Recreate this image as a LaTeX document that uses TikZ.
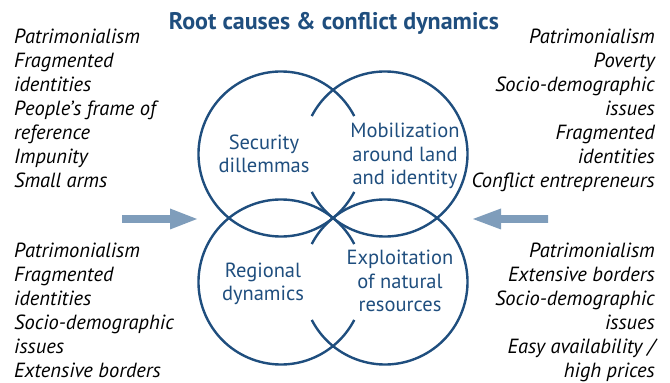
\documentclass[tikz,border=0pt]{standalone}
\usepackage{fontspec}
\setmainfont{PT Sans}
\definecolor{ringblue}{HTML}{1F4E7E}
\definecolor{arrowblue}{HTML}{7F9DBB}
\begin{document}
\begin{tikzpicture}[x=1pt,y=1pt,
  ring/.style={draw=ringblue,line width=2.4pt},
  side/.style={inner sep=0pt,font=\fontsize{20.5}{24}\selectfont\itshape,text=black},
  ctext/.style={inner sep=0pt,font=\fontsize{20.5}{23.5}\selectfont,text=ringblue,align=center},
  fatarrow/.style={draw=none,fill=arrowblue}]
\useasboundingbox (0,0) rectangle (670,383);
% ring centres (y up: 383 - image y)
\coordinate (TL) at (281,229);
\coordinate (TR) at (385,229);
\coordinate (BL) at (281,101);
\coordinate (BR) at (385,101);
\def\rr{82.5pt}
\draw[ring] ([shift={(27.4:\rr)}]TL) arc[start angle=27.4,end angle=332.6,radius=\rr];
\draw[ring] ([shift={(207.4:\rr)}]TR) arc[start angle=207.4,end angle=512.6,radius=\rr];
\draw[ring] ([shift={(27.4:\rr)}]BL) arc[start angle=27.4,end angle=332.6,radius=\rr];
\draw[ring] ([shift={(207.4:\rr)}]BR) arc[start angle=207.4,end angle=512.6,radius=\rr];
% title
\node[inner sep=0pt,anchor=base,font=\fontsize{24}{28}\selectfont\bfseries,text=ringblue] (title) at (334,353) {Root causes \& conflict dynamics};
% circle texts (base = last line)
\node[ctext,anchor=base] (sec) at (264,210) {Security\\dillemmas};
\node[ctext,anchor=base] (mob) at (405,198) {Mobilization\\around land\\and identity};
\node[ctext,anchor=base] (reg) at (263,82) {Regional\\dynamics};
\node[ctext,anchor=base] (exp) at (400,71) {Exploitation\\of natural\\resources};
% side texts (base = last line)
\node[side,align=left,anchor=base west] (tlx) at (14,195) {Patrimonialism\\Fragmented\\identities\\People’s frame of\\reference\\Impunity\\Small arms};
\node[side,align=right,anchor=base east] (trx) at (655,195) {Patrimonialism\\Poverty\\Socio-demographic\\issues\\Fragmented\\identities\\Conflict entrepreneurs};
\node[side,align=left,anchor=base west] (blx) at (14,5.5) {Patrimonialism\\Fragmented\\identities\\Socio-demographic\\issues\\Extensive borders};
\node[side,align=right,anchor=base east] (brx) at (655,5.5) {Patrimonialism\\Extensive borders\\Socio-demographic\\issues\\Easy availability /\\high prices};
% arrows
\coordinate (la) at (122,164);
\coordinate (lt) at (197,164);
\coordinate (ra) at (548,164);
\coordinate (rt) at (473,164);
\fill[fatarrow] ([yshift=3.8pt]la) -- ([xshift=-27pt,yshift=3.8pt]lt) -- ([xshift=-27pt,yshift=10.5pt]lt) -- (lt) -- ([xshift=-27pt,yshift=-10.5pt]lt) -- ([xshift=-27pt,yshift=-3.8pt]lt) -- ([yshift=-3.8pt]la) -- cycle;
\fill[fatarrow] ([yshift=3.8pt]ra) -- ([xshift=28pt,yshift=3.8pt]rt) -- ([xshift=28pt,yshift=10.5pt]rt) -- (rt) -- ([xshift=28pt,yshift=-10.5pt]rt) -- ([xshift=28pt,yshift=-3.8pt]rt) -- ([yshift=-3.8pt]ra) -- cycle;
\end{tikzpicture}
\end{document}
